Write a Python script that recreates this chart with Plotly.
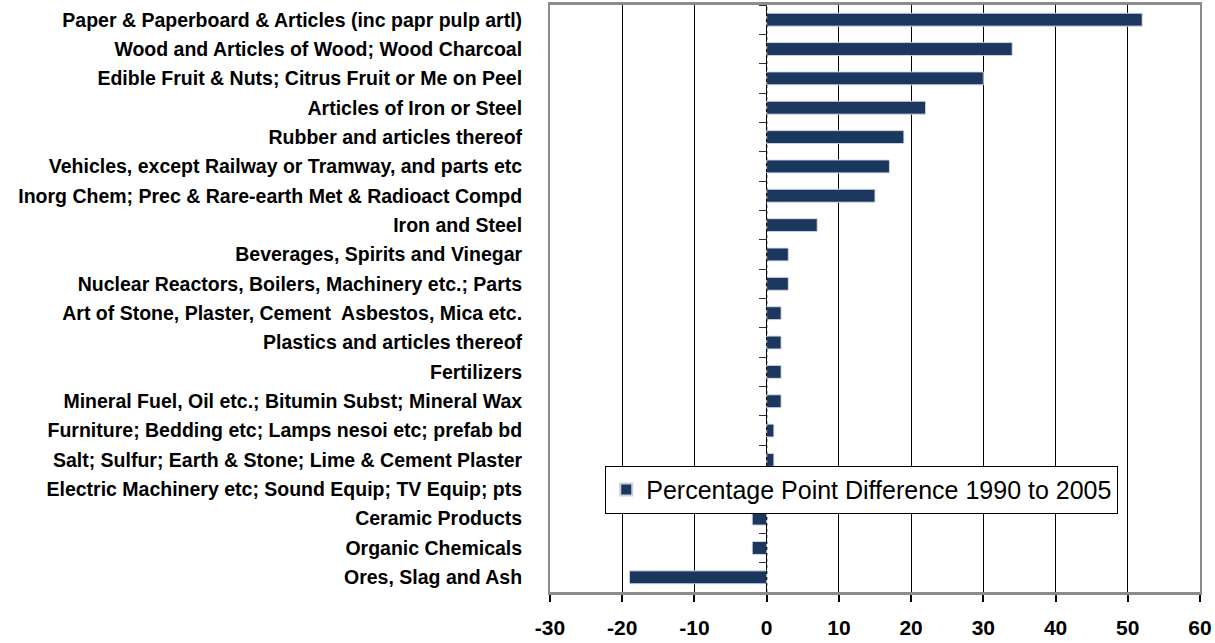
import plotly.graph_objects as go

categories = [
    "Paper & Paperboard & Articles (inc papr pulp artl)",
    "Wood and Articles of Wood; Wood Charcoal",
    "Edible Fruit & Nuts; Citrus Fruit or Me on Peel",
    "Articles of Iron or Steel",
    "Rubber and articles thereof",
    "Vehicles, except Railway or Tramway, and parts etc",
    "Inorg Chem; Prec & Rare-earth Met & Radioact Compd",
    "Iron and Steel",
    "Beverages, Spirits and Vinegar",
    "Nuclear Reactors, Boilers, Machinery etc.; Parts",
    "Art of Stone, Plaster, Cement  Asbestos, Mica etc.",
    "Plastics and articles thereof",
    "Fertilizers",
    "Mineral Fuel, Oil etc.; Bitumin Subst; Mineral Wax",
    "Furniture; Bedding etc; Lamps nesoi etc; prefab bd",
    "Salt; Sulfur; Earth & Stone; Lime & Cement Plaster",
    "Electric Machinery etc; Sound Equip; TV Equip; pts",
    "Ceramic Products",
    "Organic Chemicals",
    "Ores, Slag and Ash",
]
values = [52, 34, 30, 22, 19, 17, 15, 7, 3, 3, 2, 2, 2, 2, 1, 1, -1, -2, -2, -19]
series_name = "Percentage Point Difference 1990 to 2005"
x_ticks = [-30, -20, -10, 0, 10, 20, 30, 40, 50, 60]

navy = "#1B375E"
label_font = dict(family="Liberation Sans", size=19.5, color="black", weight="bold")
xtick_font = dict(family="Liberation Sans", size=21, color="black", weight="bold")

fig = go.Figure()
fig.add_trace(go.Bar(
    x=values, y=categories, orientation="h", name=series_name,
    marker=dict(color=navy, line=dict(color="#C8D0DC", width=0.6)),
    yaxis="y",
))
# invisible trace to drive the category tick marks at the zero line
fig.add_trace(go.Bar(
    x=values, y=categories, orientation="h", showlegend=False,
    marker=dict(color="rgba(0,0,0,0)"), hoverinfo="skip", yaxis="y2",
))

fig.update_layout(
    width=1215, height=643,
    margin=dict(l=550, r=15, t=5, b=51, autoexpand=False),
    paper_bgcolor="white", plot_bgcolor="white",
    bargap=0.56,
    showlegend=True,
    legend=dict(
        x=0.085, y=0.174, xanchor="left", yanchor="middle",
        bgcolor="white", bordercolor="black", borderwidth=1,
        font=dict(family="Liberation Sans", size=25, color="black"),
        itemsizing="constant", tracegroupgap=0,
    ),
    xaxis=dict(
        range=[-30, 60], tickvals=x_ticks, ticktext=[str(v) for v in x_ticks],
        showgrid=True, gridcolor="black", gridwidth=1,
        zeroline=False, automargin=False,
        showline=True, linecolor="#8C8C8C", linewidth=3, mirror=True,
        ticks="outside", ticklen=7, tickwidth=2, tickcolor="black",
        tickfont=xtick_font, ticklabelstandoff=8,
    ),
    yaxis=dict(
        type="category", categoryorder="array", categoryarray=categories,
        autorange="reversed", automargin=False,
        showgrid=False, zeroline=False,
        showline=True, linecolor="#8C8C8C", linewidth=2, mirror=True,
        ticks="", tickfont=label_font, ticklabelstandoff=22,
    ),
    yaxis2=dict(
        type="category", categoryorder="array", categoryarray=categories,
        autorange="reversed", overlaying="y", anchor="free", position=1/3,
        side="left", showgrid=False, zeroline=False, showline=False,
        showticklabels=False, ticks="outside", tickson="boundaries",
        ticklen=8, tickwidth=1, tickcolor="#333333", automargin=False,
    ),
    shapes=[dict(type="line", xref="x", yref="paper", x0=0, x1=0, y0=0, y1=1,
                 line=dict(color="black", width=1.2, dash="dot"), layer="above")],
)

fig.write_html("out.html")
